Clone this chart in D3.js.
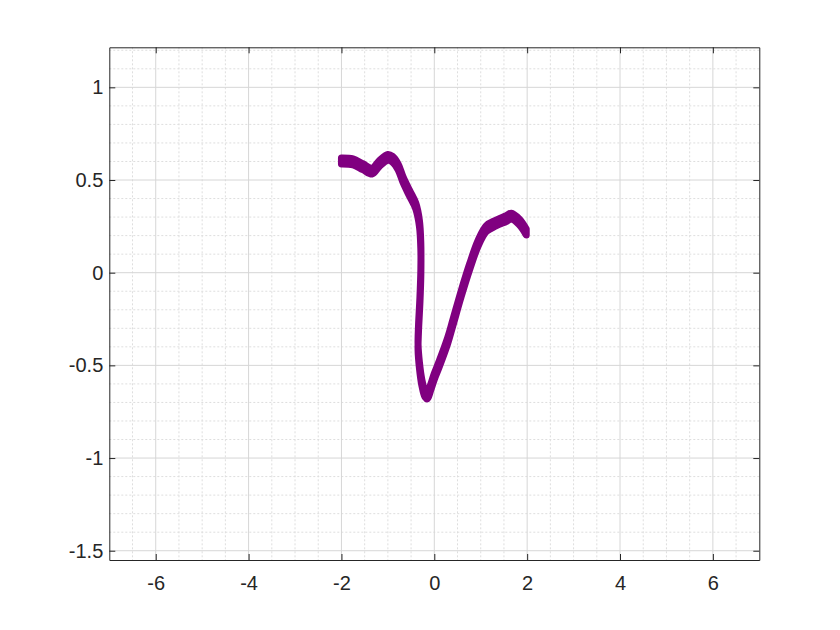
<!DOCTYPE html>
<meta charset="utf-8">
<script src="https://d3js.org/d3.v7.min.js"></script>
<style>
  body { margin: 0; background: #fff; }
  text { font-family: "Liberation Sans", Arial, sans-serif; }
</style>
<div id="my_dataviz"></div>

<script>
// curve centre line
var xs = [-2.0, -1.75, -1.54, -1.34, -1.18, -1.0, -0.9, -0.78, -0.67, -0.53, -0.4, -0.32,
          -0.29, -0.29, -0.31, -0.34, -0.35, -0.32, -0.27, -0.2, -0.15, -0.08, 0.0, 0.11,
          0.29, 0.4, 0.58, 0.76, 0.94, 1.12, 1.33, 1.55, 1.66, 1.83, 1.98];
var ys = [0.603, 0.598, 0.572, 0.548, 0.59, 0.622, 0.612, 0.571, 0.50, 0.427, 0.36, 0.265,
          0.14, 0.0, -0.15, -0.30, -0.40, -0.50, -0.59, -0.655, -0.665, -0.62, -0.56, -0.49,
          -0.365, -0.27, -0.113, 0.031, 0.157, 0.238, 0.268, 0.292, 0.305, 0.274, 0.22];
// vertical scatter of the markers around the centre line
var spread = 0.016;

var xTicks = [-6, -4, -2, 0, 2, 4, 6];
var yTicks = [-1.5, -1, -0.5, 0, 0.5, 1];

var points = xs.map(function (x, i) { return { x: x, y: ys[i] }; });

var margin = { top: 47.3, right: 80.7, bottom: 70, left: 109.3 },
    width = 840 - margin.left - margin.right,
    height = 630 - margin.top - margin.bottom;

var svg = d3.select("#my_dataviz")
    .append("svg")
    .attr("width", 840)
    .attr("height", 630)
    .append("g")
    .attr("transform", "translate(" + margin.left + "," + margin.top + ")");

var x = d3.scaleLinear().domain([-7, 7]).range([0, width]);
var y = d3.scaleLinear().domain([-1.55, 1.216]).range([height, 0]);

// minor grid
svg.append("g").selectAll("line")
    .data(d3.range(-6.5, 7, 0.5).filter(function (d) { return Math.abs(d % 2) > 0.01; }))
    .enter().append("line")
    .attr("x1", function (d) { return x(d); }).attr("x2", function (d) { return x(d); })
    .attr("y1", 0).attr("y2", height)
    .attr("stroke", "#dedede").attr("stroke-dasharray", "2,2");
svg.append("g").selectAll("line")
    .data(d3.range(-15, 13).map(function (d) { return d / 10; })
        .filter(function (d) { return Math.abs(Math.round(d * 10) % 5) !== 0; }))
    .enter().append("line")
    .attr("y1", function (d) { return y(d); }).attr("y2", function (d) { return y(d); })
    .attr("x1", 0).attr("x2", width)
    .attr("stroke", "#dedede").attr("stroke-dasharray", "2,2");

// major grid
svg.append("g").selectAll("line")
    .data(xTicks).enter().append("line")
    .attr("x1", function (d) { return x(d); }).attr("x2", function (d) { return x(d); })
    .attr("y1", 0).attr("y2", height)
    .attr("stroke", "#d6d6d6");
svg.append("g").selectAll("line")
    .data(yTicks).enter().append("line")
    .attr("y1", function (d) { return y(d); }).attr("y2", function (d) { return y(d); })
    .attr("x1", 0).attr("x2", width)
    .attr("stroke", "#d6d6d6");

// the curve: band of marker centres, stroked with the marker size
var band = d3.area()
    .x(function (d) { return x(d.x); })
    .y0(function (d) { return y(d.y - spread); })
    .y1(function (d) { return y(d.y + spread); })
    .curve(d3.curveCatmullRom);
svg.append("path")
    .datum(points)
    .attr("d", band)
    .attr("fill", "#800080")
    .attr("stroke", "#800080")
    .attr("stroke-width", 7)
    .attr("stroke-linejoin", "round");

// axes, ticks pointing inward, box all round
var fmt = function (d) { return String(d); };
function styleAxis(g) {
    g.select(".domain").attr("stroke", "#262626");
    g.selectAll(".tick line").attr("stroke", "#262626");
    g.selectAll(".tick text").attr("fill", "#262626").style("font-size", "20px");
}
svg.append("g")
    .attr("transform", "translate(0," + height + ")")
    .call(d3.axisBottom(x).tickValues(xTicks).tickFormat(fmt).tickSizeInner(-6).tickSizeOuter(0).tickPadding(16))
    .call(styleAxis);
svg.append("g")
    .call(d3.axisTop(x).tickValues(xTicks).tickSizeInner(-6).tickSizeOuter(0).tickFormat(""))
    .call(styleAxis);
svg.append("g")
    .call(d3.axisLeft(y).tickValues(yTicks).tickFormat(fmt).tickSizeInner(-6).tickSizeOuter(0).tickPadding(6))
    .call(styleAxis);
svg.append("g")
    .attr("transform", "translate(" + width + ",0)")
    .call(d3.axisRight(y).tickValues(yTicks).tickSizeInner(-6).tickSizeOuter(0).tickFormat(""))
    .call(styleAxis);
svg.selectAll("text").attr("font-family", "Liberation Sans, Arial, sans-serif");
</script>
